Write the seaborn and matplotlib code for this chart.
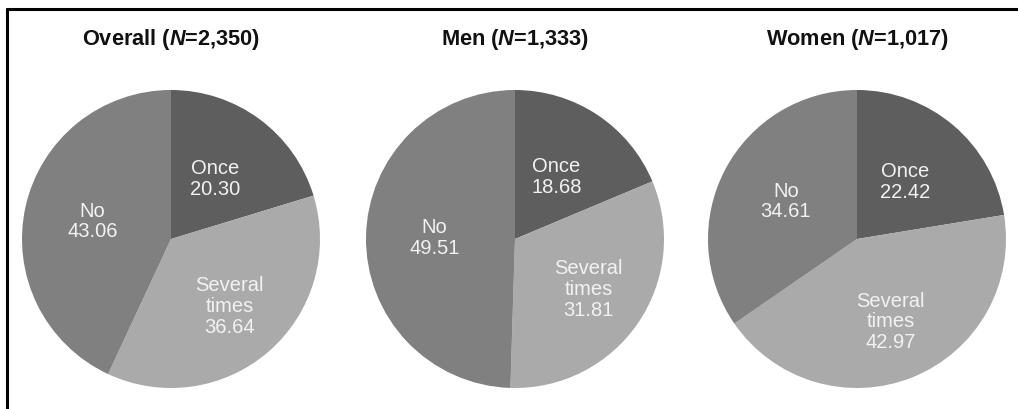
import matplotlib
matplotlib.use("Agg")
import matplotlib.pyplot as plt
from matplotlib.lines import Line2D
import numpy as np
import seaborn as sns

# ---- data ----
groups = ["Overall", "Men", "Women"]
group_n = ["2,350", "1,333", "1,017"]
categories = ["Once", "Several\ntimes", "No"]
overall_vals = [20.30, 36.64, 43.06]
men_vals = [18.68, 31.81, 49.51]
women_vals = [22.42, 42.97, 34.61]

sns.set_theme(style="white")
plt.rcParams["font.family"] = ["Liberation Sans", "DejaVu Sans"]
plt.rcParams["mathtext.fontset"] = "custom"
plt.rcParams["mathtext.rm"] = "Liberation Sans:bold"
plt.rcParams["mathtext.it"] = "Liberation Sans:italic:bold"
plt.rcParams["mathtext.bf"] = "Liberation Sans:bold"

palette = sns.color_palette(["#5e5e5e", "#aaaaaa", "#808080"])
label_dist = [0.5, 0.6, 0.54]

W, H = 1018, 409
fig = plt.figure(figsize=(W / 100, H / 100), dpi=100)
fig.patch.set_facecolor("white")

centers_x = [171, 515, 857]
center_y = 239
radius = 149

all_vals = [overall_vals, men_vals, women_vals]
for cx, name, n, vals in zip(centers_x, groups, group_n, all_vals):
    ax = fig.add_axes([(cx - radius) / W, (H - center_y - radius) / H,
                       2 * radius / W, 2 * radius / H])
    wedges, _ = ax.pie(vals, colors=palette, startangle=90, counterclock=False,
                       wedgeprops=dict(linewidth=0))
    ax.set_xlim(-1, 1)
    ax.set_ylim(-1, 1)
    ax.set_aspect("equal")
    ax.axis("off")
    for w, cat, v, d in zip(wedges, categories, vals, label_dist):
        ang = np.deg2rad((w.theta1 + w.theta2) / 2)
        ax.text(d * np.cos(ang), d * np.sin(ang), f"{cat}\n{v:.2f}",
                ha="center", va="center", color="#f2f2f2", fontsize=14.5,
                linespacing=1.12)
    fig.text(cx / W, 1 - 39 / H, f"{name} ($\\mathit{{N}}$=" + n + ")",
             ha="center", va="center", fontsize=15.7, fontweight="bold",
             color="#111111")

# frame lines (top and left)
fig.add_artist(Line2D([7 / W, 1], [1 - 9 / H, 1 - 9 / H], color="black",
                      linewidth=2.2, transform=fig.transFigure))
fig.add_artist(Line2D([7 / W, 7 / W], [0, 1 - 9 / H], color="black",
                      linewidth=2.2, transform=fig.transFigure))

fig.savefig("out.png", dpi=100, facecolor="white")
